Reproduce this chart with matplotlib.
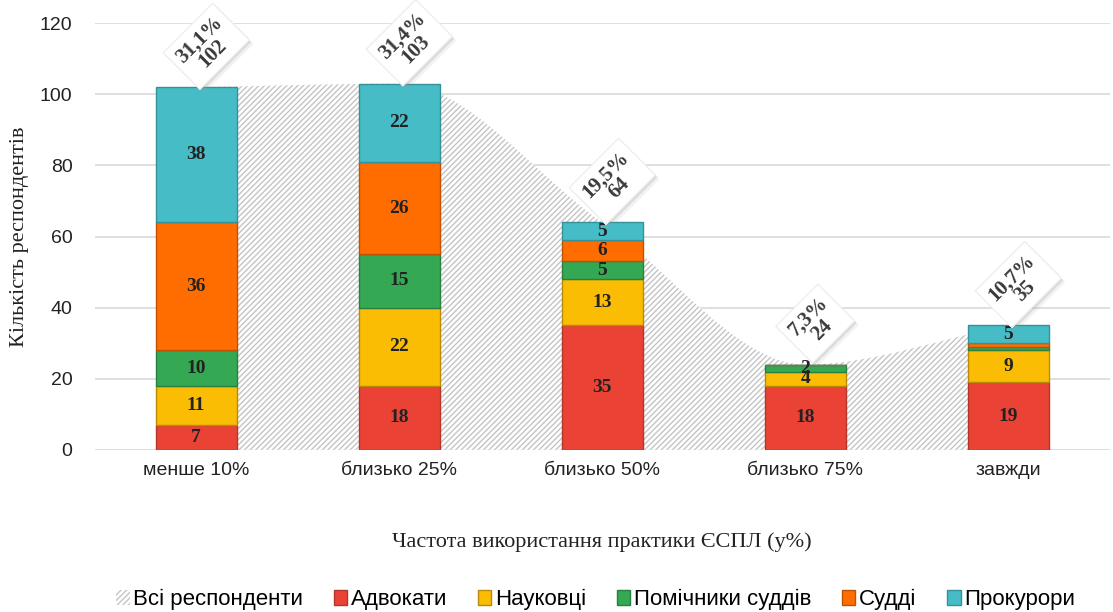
import numpy as np
import matplotlib.pyplot as plt
from matplotlib.path import Path
from matplotlib.patches import PathPatch, Patch
import matplotlib.patheffects as pe

categories = ['менше 10%', 'близько 25%', 'близько 50%', 'близько 75%', 'завжди']
advokaty = [7, 18, 35, 18, 19]
naukovtsi = [11, 22, 13, 4, 9]
pomichnyky = [10, 15, 5, 2, 1]
suddi = [36, 26, 6, 0, 1]
prokurory = [38, 22, 5, 0, 5]
series_names = ['Адвокати', 'Науковці', 'Помічники суддів', 'Судді', 'Прокурори']
colors = ['#EA4335', '#FBBC04', '#34A853', '#FF6D01', '#46BDC6']
edges = ['#B3362B', '#B88A05', '#27803F', '#BF5201', '#35909A']

series = [advokaty, naukovtsi, pomichnyky, suddi, prokurory]
totals = np.sum(series, axis=0)
pct = totals / totals.sum() * 100

serif = ['Liberation Serif', 'DejaVu Serif']
sans = ['Liberation Sans', 'DejaVu Sans']

fig = plt.figure(figsize=(11.13, 6.12), dpi=100)
ax = fig.add_axes([0.085, 0.265, 0.912, 0.697])
x = np.arange(len(categories))

# smooth area through the totals (monotone cubic tangents -> bezier segments)
xs = x.astype(float)
ys = totals.astype(float)
sec = np.diff(ys) / np.diff(xs)
tang = np.zeros(len(ys))
tang[0], tang[-1] = sec[0], sec[-1]
for i in range(1, len(ys) - 1):
    if sec[i - 1] * sec[i] > 0:
        tang[i] = (sec[i - 1] + sec[i]) / 2
verts = [(xs[0], 0), (xs[0], ys[0])]
codes = [Path.MOVETO, Path.LINETO]
for i in range(len(ys) - 1):
    h = xs[i + 1] - xs[i]
    verts += [(xs[i] + h / 3, ys[i] + tang[i] * h / 3),
              (xs[i + 1] - h / 3, ys[i + 1] - tang[i + 1] * h / 3),
              (xs[i + 1], ys[i + 1])]
    codes += [Path.CURVE4] * 3
verts += [(xs[-1], 0), (xs[0], 0)]
codes += [Path.LINETO, Path.CLOSEPOLY]
plt.rcParams['hatch.linewidth'] = 1.0
area = PathPatch(Path(verts, codes), facecolor='white', edgecolor='#c4c4c4',
                 linewidth=0, hatch='//////', zorder=1)
ax.add_patch(area)

bottom = np.zeros(len(categories))
w = 0.4
for vals, c, ec in zip(series, colors, edges):
    ax.bar(x, vals, w, bottom=bottom, color=c, edgecolor=ec, linewidth=1, zorder=2)
    for xi, v, b in zip(x, vals, bottom):
        if v >= 2:
            ax.text(xi, b + v / 2, str(v), ha='center', va='center',
                    fontsize=14, fontweight='bold', family=serif,
                    color='#222222', zorder=4)
    bottom += np.array(vals)

for xi, t, p in zip(x, totals, pct):
    lbl = ('%.1f%%' % p).replace('.', ',') + '\n' + str(t)
    txt = ax.text(xi + 0.05, t + 11.5, lbl, ha='center', va='center', rotation=45,
                  rotation_mode='anchor', fontsize=15, fontweight='bold',
                  family=serif, color='#3a3a3a', linespacing=0.95, zorder=6,
                  bbox=dict(boxstyle='square,pad=0.3', fc='white', ec='#eeeeee', lw=0.8))
    txt.get_bbox_patch().set_path_effects(
        [pe.withSimplePatchShadow(offset=(3, -3), shadow_rgbFace='#999999', alpha=0.12),
         pe.withSimplePatchShadow(offset=(1.5, -1.5), shadow_rgbFace='#999999', alpha=0.25),
         pe.Normal()])

ax.set_xlim(-0.5, 4.5)
ax.set_ylim(0, 120)
ax.set_yticks(range(0, 121, 20))
ax.set_xticks(x)
ax.set_xticklabels(categories)
ax.grid(axis='y', color='#d9d9d9', linewidth=1.2, zorder=0)
ax.set_axisbelow(True)
for s in ax.spines.values():
    s.set_visible(False)
ax.tick_params(length=0, labelsize=14, labelcolor='#222222')
ax.tick_params(axis='y', pad=16)
ax.tick_params(axis='x', pad=9)
for lab in ax.get_xticklabels() + ax.get_yticklabels():
    lab.set_family(sans)

ax.set_ylabel('Кількість респондентів', fontsize=16, family=serif, color='#222222', labelpad=8)
ax.set_xlabel('Частота використання практики ЄСПЛ (у%)', fontsize=16, family=serif,
              color='#222222', labelpad=38)

handles = [Patch(facecolor='white', edgecolor='#c4c4c4', hatch='//////', linewidth=0)]
handles += [Patch(facecolor=c, edgecolor=ec) for c, ec in zip(colors, edges)]
labels = ['Всі респонденти'] + series_names
fig.legend(handles, labels, loc='center', bbox_to_anchor=(0.535, 0.02), ncol=6,
           frameon=False, prop={'family': sans, 'size': 16}, handlelength=0.6,
           handleheight=0.6, handletextpad=0.15, columnspacing=1.4)

fig.savefig('out.png', dpi=100)
